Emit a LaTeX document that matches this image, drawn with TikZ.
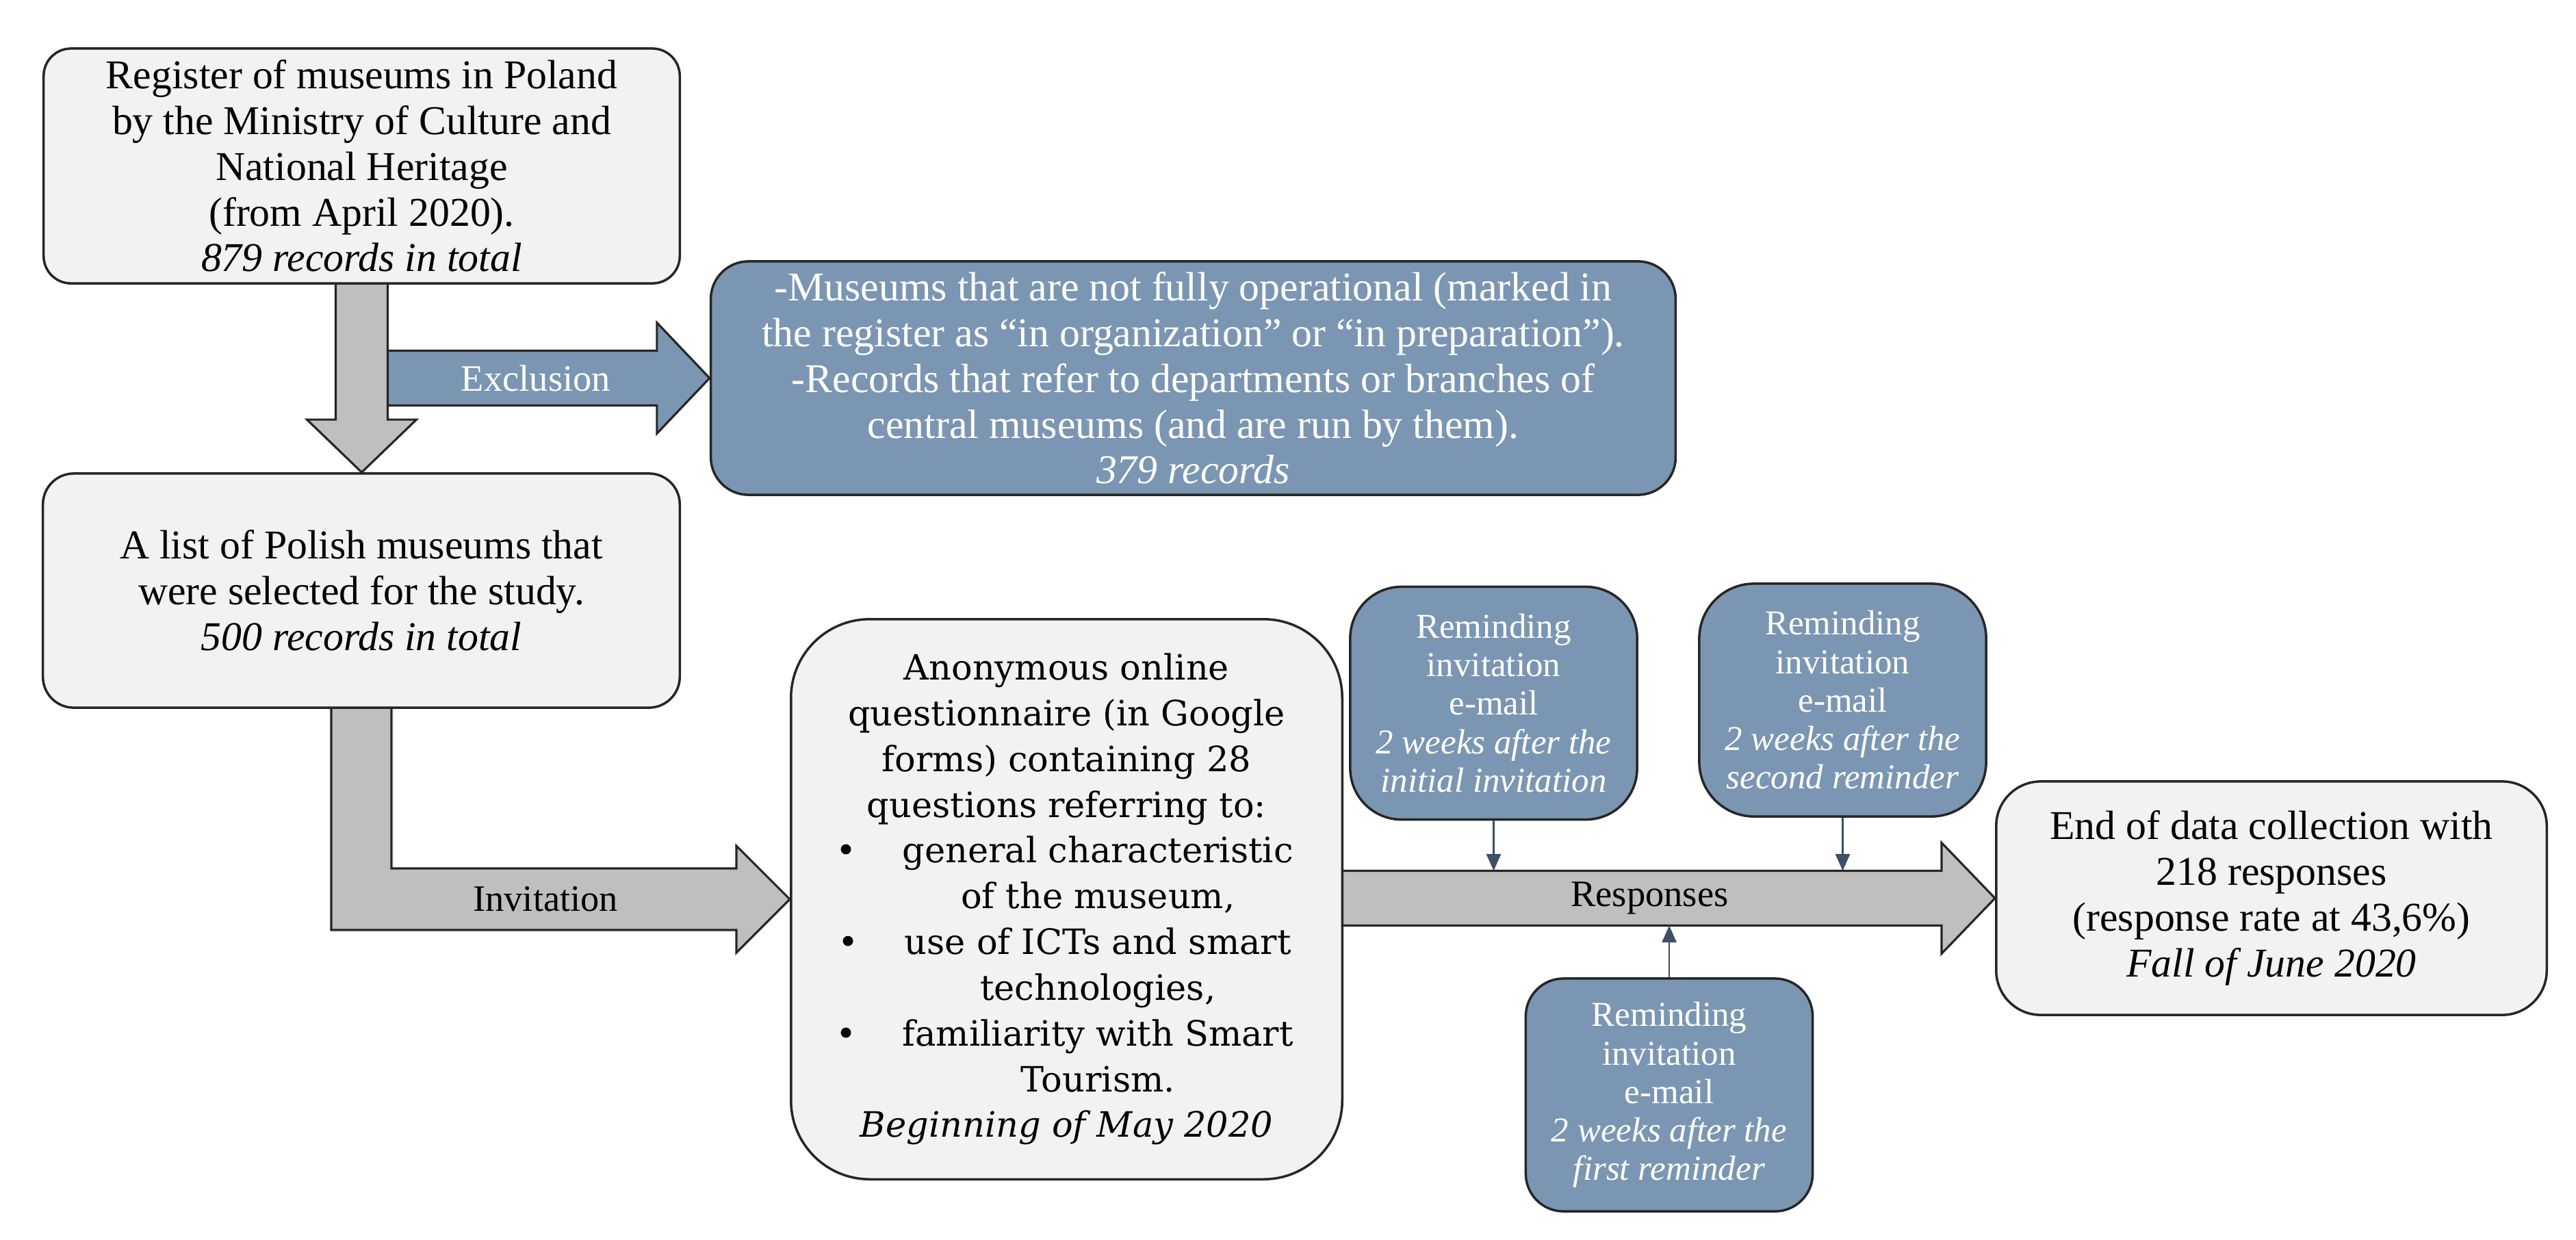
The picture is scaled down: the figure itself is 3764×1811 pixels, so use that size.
\documentclass[tikz,border=0pt]{standalone}
\usepackage{fontspec}
\setmainfont{Liberation Serif}
\newfontfamily\qfont{DejaVu Serif}
\usetikzlibrary{arrows.meta,calc}
\pgfdeclarelayer{bg}
\pgfsetlayers{bg,main}
\definecolor{boxgray}{HTML}{F2F2F2}
\definecolor{arrowgray}{HTML}{BFBFBF}
\definecolor{slateblue}{HTML}{7B96B2}
\definecolor{edgedark}{HTML}{262626}
\definecolor{linkblue}{HTML}{3B4F66}
\begin{document}
\begin{tikzpicture}[x=0.01cm,y=-0.01cm,
  greybox/.style={draw=edgedark, line width=1pt, fill=boxgray, align=center, inner sep=4pt,
    font=\fontsize{17}{19}\selectfont},
  bluebox/.style={draw=edgedark, line width=1pt, fill=slateblue, text=white, align=center, inner sep=4pt,
    font=\fontsize{17}{19}\selectfont},
  remind/.style={bluebox, font=\fontsize{14.5}{16}\selectfont, minimum width=4.19cm, minimum height=3.4cm},
  blockarrow/.style={draw=edgedark, line width=0.9pt, line join=miter},
  arrowlabel/.style={font=\fontsize{15.5}{18}\selectfont, inner sep=0pt},
  link/.style={draw=linkblue, line width=0.7pt, -{Triangle[length=7pt,width=6pt]}}
]
\useasboundingbox (0,0) rectangle (3764,1811);

% ---------- boxes ----------
\node[greybox, minimum width=9.29cm, minimum height=3.43cm, rounded corners=0.4cm] (reg) at (528.5,242.5)
  {Register of museums in Poland\\by the Ministry of Culture and\\National Heritage\\(from April 2020).\\\textit{879 records in total}};

\node[greybox, minimum width=9.30cm, minimum height=3.42cm, rounded corners=0.45cm] (list) at (528,863)
  {A list of Polish museums that\\were selected for the study.\\\textit{500 records in total}};

\node[bluebox, minimum width=14.09cm, minimum height=3.41cm, rounded corners=0.55cm] (excl) at (1743.5,552.5)
  {-Museums that are not fully operational (marked in\\the register as “in organization” or “in preparation”).\\-Records that refer to departments or branches of\\central museums (and are run by them).\\\textit{379 records}};

\node[greybox, font=\qfont\fontsize{14.5}{19}\selectfont, minimum width=8.05cm, minimum height=8.18cm, rounded corners=1.15cm] (quest) at (1558.5,1314)
  {Anonymous online\\questionnaire (in Google\\forms) containing 28\\questions referring to:\\
   \hspace*{26pt}\llap{\textbullet\hspace{19pt}}general characteristic\\
   \hspace*{26pt}of the museum,\\
   \hspace*{26pt}\llap{\textbullet\hspace{19pt}}use of ICTs and smart\\
   \hspace*{26pt}technologies,\\
   \hspace*{26pt}\llap{\textbullet\hspace{19pt}}familiarity with Smart\\
   \hspace*{26pt}Tourism.\\
   \textit{Beginning of May 2020}};

\node[remind, rounded corners=0.75cm] (remA) at (2182.5,1027.5)
  {Reminding\\invitation\\e-mail\\\textit{2 weeks after the}\\\textit{initial invitation}};

\node[remind, rounded corners=0.8cm] (remC) at (2692.5,1023)
  {Reminding\\invitation\\e-mail\\\textit{2 weeks after the}\\\textit{second reminder}};

\node[remind, rounded corners=0.55cm] (remB) at (2439,1600)
  {Reminding\\invitation\\e-mail\\\textit{2 weeks after the}\\\textit{first reminder}};

\node[greybox, minimum width=8.04cm, minimum height=3.41cm, rounded corners=0.65cm] (endb) at (3319,1312.5)
  {End of data collection with\\218 responses\\(response rate at 43,6\%)\\\textit{Fall of June 2020}};

% ---------- reference coordinates for block arrows ----------
\coordinate (dtip) at (reg.south |- list.north);
\coordinate (ebase) at ($(reg.south)+(38,0)$);
\coordinate (etip) at (excl.west);
\coordinate (e0) at (ebase |- etip);
\coordinate (itip) at (quest.west);
\coordinate (icorner) at (list.south |- itip);
\coordinate (rtip) at (endb.west);
\coordinate (r0) at (quest.east |- rtip);
\coordinate (rtop) at ($(r0)+(0,-40)$);
\coordinate (rbot) at ($(r0)+(0,40)$);

\begin{pgfonlayer}{bg}
% Exclusion arrow
\path[blockarrow, fill=slateblue] ($(e0)+(0,-40)$) -- ($(etip)+(-77,-40)$) -- ($(etip)+(-77,-81)$)
  -- (etip) -- ($(etip)+(-77,81)$) -- ($(etip)+(-77,40)$) -- ($(e0)+(0,40)$);
% Down arrow
\path[blockarrow, fill=arrowgray] ($(reg.south)+(-38,0)$) -- ($(dtip)+(-38,-77)$) -- ($(dtip)+(-80,-77)$)
  -- (dtip) -- ($(dtip)+(80,-77)$) -- ($(dtip)+(38,-77)$) -- ($(reg.south)+(38,0)$);
% Invitation arrow (bent)
\path[blockarrow, fill=arrowgray] ($(list.south)+(-44,0)$) -- ($(icorner)+(-44,45)$) -- ($(itip)+(-78,45)$)
  -- ($(itip)+(-78,78)$) -- (itip) -- ($(itip)+(-78,-78)$) -- ($(itip)+(-78,-45)$)
  -- ($(icorner)+(44,-45)$) -- ($(list.south)+(44,0)$);
% Responses arrow
\path[blockarrow, fill=arrowgray] (rtop) -- ($(rtip)+(-78,-40)$) -- ($(rtip)+(-78,-81)$)
  -- (rtip) -- ($(rtip)+(-78,81)$) -- ($(rtip)+(-78,40)$) -- (rbot);
\end{pgfonlayer}

% ---------- arrow labels ----------
\node[arrowlabel, text=white] (exlab) at ($(e0)!0.46!(etip)$) {Exclusion};
\node[arrowlabel] (invlab) at ($(icorner)!0.43!(itip)$) {Invitation};
\node[arrowlabel] (reslab) at ($(r0)!0.47!(rtip)$) {Responses};

% ---------- reminder connectors ----------
\draw[link] (remA.south) -- (remA.south |- rtop);
\draw[link] (remC.south) -- (remC.south |- rtop);
\draw[link] (remB.north) -- (remB.north |- rbot);
\end{tikzpicture}
\end{document}
